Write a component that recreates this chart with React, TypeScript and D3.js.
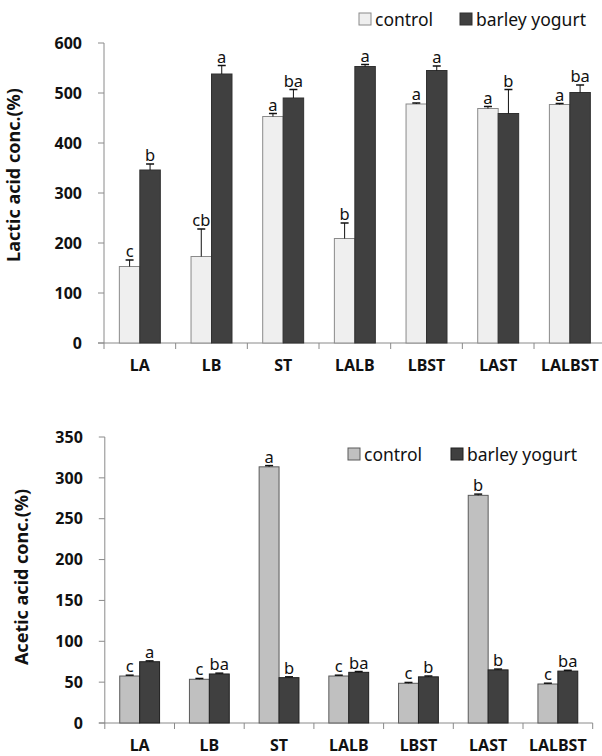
import * as d3 from 'd3'

const categories = ['LA', 'LB', 'ST', 'LALB', 'LBST', 'LAST', 'LALBST']
const seriesNames = ['control', 'barley yogurt']

const lacticControl = [153, 173, 453, 209, 478, 469, 477]
const lacticControlErr = [13, 55, 6, 31, 2, 4, 2]
const lacticYogurt = [346, 538, 490, 553, 545, 459, 501]
const lacticYogurtErr = [12, 17, 17, 4, 9, 48, 15]
const lacticControlSig = ['c', 'cb', 'a', 'b', 'a', 'a', 'a']
const lacticYogurtSig = ['b', 'a', 'ba', 'a', 'a', 'b', 'ba']
const lacticTicks = [0, 100, 200, 300, 400, 500, 600]

const aceticControl = [57.5, 53.5, 313.5, 57.5, 48.6, 278.6, 47.7]
const aceticControlErr = [1, 1, 1.5, 1, 1, 1.5, 1]
const aceticYogurt = [75, 60, 55.5, 62, 56.5, 65, 63.5]
const aceticYogurtErr = [1, 1, 1, 1, 1, 1, 1]
const aceticControlSig = ['c', 'c', 'a', 'c', 'c', 'b', 'c']
const aceticYogurtSig = ['a', 'ba', 'b', 'ba', 'b', 'b', 'ba']
const aceticTicks = [0, 50, 100, 150, 200, 250, 300, 350]

const FONT = "'Noto Sans', sans-serif"
const AXIS = '#8a8a8a'

type PanelProps = {
  values: number[][]
  errs: number[][]
  sigs: string[][]
  ticks: number[]
  yTop: number
  yBottom: number
  xLeft: number
  xRight: number
  title: string
  titleX: number
  titleY: number
  fills: string[]
  strokes: string[]
  legendX: number[]
  legendY: number
  labelY: number
}

function Panel(p: PanelProps) {
  const max = p.ticks[p.ticks.length - 1]
  const y = d3.scaleLinear().domain([0, max]).range([p.yBottom, p.yTop])
  const x0 = d3.scaleBand<string>().domain(categories).range([p.xLeft, p.xRight]).paddingInner(0).paddingOuter(0)
  const x1 = d3.scaleBand<string>().domain(seriesNames).range([0, x0.bandwidth()]).paddingInner(0).paddingOuter(0.75)
  const boundaries = d3.range(categories.length + 1).map((i) => p.xLeft + i * x0.step())

  return (
    <g>
      {/* y axis */}
      <line x1={p.xLeft} x2={p.xLeft} y1={p.yTop} y2={p.yBottom} stroke={AXIS} />
      {p.ticks.map((t) => (
        <g key={t}>
          <line x1={p.xLeft - 6} x2={p.xLeft} y1={y(t)} y2={y(t)} stroke={AXIS} />
          <text x={p.xLeft - 22} y={y(t)} dy="0.36em" textAnchor="end" fontFamily={FONT} fontWeight="bold" fontSize={16} fill="#111">
            {t}
          </text>
        </g>
      ))}
      {/* x axis */}
      <line x1={p.xLeft - 6} x2={p.xRight} y1={p.yBottom} y2={p.yBottom} stroke={AXIS} />
      {boundaries.map((bx, i) => (
        <line key={i} x1={bx} x2={bx} y1={p.yBottom} y2={p.yBottom + 6} stroke={AXIS} />
      ))}
      {categories.map((c) => (
        <text key={c} x={(x0(c) as number) + x0.bandwidth() / 2} y={p.labelY} textAnchor="middle" fontFamily={FONT} fontWeight="bold" fontSize={16} fill="#111">
          {c}
        </text>
      ))}
      {/* bars */}
      {seriesNames.map((s, si) =>
        categories.map((c, ci) => {
          const bx = (x0(c) as number) + (x1(s) as number)
          const bw = x1.bandwidth()
          const v = p.values[si][ci]
          const top = y(v + p.errs[si][ci])
          const cx = bx + bw / 2
          return (
            <g key={s + c}>
              <rect x={bx} y={y(v)} width={bw} height={p.yBottom - y(v)} fill={p.fills[si]} stroke={p.strokes[si]} strokeWidth={1} />
              <line x1={cx} x2={cx} y1={y(v)} y2={top} stroke="#111" />
              <line x1={cx - 4} x2={cx + 4} y1={top} y2={top} stroke="#111" strokeWidth={1.5} />
              <text x={cx} y={top - 3} textAnchor="middle" fontFamily={FONT} fontSize={16.5} fill="#111">
                {p.sigs[si][ci]}
              </text>
            </g>
          )
        })
      )}
      {/* y title */}
      <text transform={`translate(${p.titleX},${p.titleY}) rotate(-90)`} textAnchor="middle" fontFamily={FONT} fontWeight="bold" fontSize={18} fill="#111">
        {p.title}
      </text>
      {/* legend */}
      {seriesNames.map((s, si) => (
        <g key={s}>
          <rect x={p.legendX[si]} y={p.legendY - 13} width={12} height={12} fill={p.fills[si]} stroke={p.strokes[si]} />
          <text x={p.legendX[si] + 16} y={p.legendY} fontFamily={FONT} fontSize={17.5} fill="#111">
            {s}
          </text>
        </g>
      ))}
    </g>
  )
}

export default function App() {
  return (
    <svg width={602} height={756} style={{ position: 'absolute', left: 0, top: 0, background: '#fff' }}>
      <Panel
        values={[lacticControl, lacticYogurt]}
        errs={[lacticControlErr, lacticYogurtErr]}
        sigs={[lacticControlSig, lacticYogurtSig]}
        ticks={lacticTicks}
        yTop={43}
        yBottom={343}
        xLeft={104}
        xRight={605.7}
        title="Lactic acid conc.(%)"
        titleX={20}
        titleY={175}
        fills={['#efefef', '#404040']}
        strokes={['#8a8a8a', '#303030']}
        legendX={[359, 460]}
        legendY={26}
        labelY={371}
      />
      <Panel
        values={[aceticControl, aceticYogurt]}
        errs={[aceticControlErr, aceticYogurtErr]}
        sigs={[aceticControlSig, aceticYogurtSig]}
        ticks={aceticTicks}
        yTop={437}
        yBottom={723}
        xLeft={104.8}
        xRight={592.7}
        title="Acetic acid conc.(%)"
        titleX={28}
        titleY={577}
        fills={['#c0c0c0', '#404040']}
        strokes={['#5a5a5a', '#202020']}
        legendX={[348, 451]}
        legendY={461}
        labelY={751}
      />
    </svg>
  )
}
